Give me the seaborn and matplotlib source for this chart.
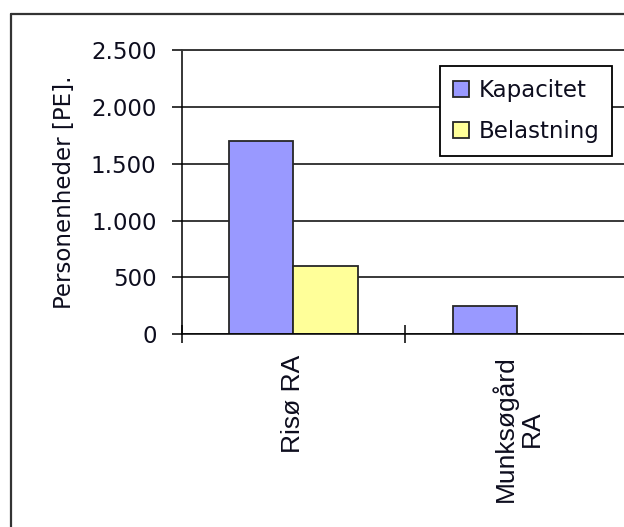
import matplotlib
matplotlib.use("Agg")
import matplotlib.pyplot as plt
from matplotlib.lines import Line2D
from matplotlib.ticker import FuncFormatter, FixedLocator
import seaborn as sns
import pandas as pd

# Data
anlaeg = ["Risø RA", "Munksøgård\nRA"]
kapacitet = [1700, 250]
belastning = [600, 0]
serier = ["Kapacitet", "Belastning"]
farver = ["#9999FF", "#FFFF99"]
y_ticks = [0, 500, 1000, 1500, 2000, 2500]

df = pd.DataFrame({
    "anlaeg": anlaeg * 2,
    "pe": kapacitet + belastning,
    "serie": [serier[0]] * len(anlaeg) + [serier[1]] * len(anlaeg),
})

sns.set_theme(style="white")
plt.rcParams["font.family"] = ["DejaVu Sans"]
TXT = "#0d0d1e"

W, H = 624, 527
fig = plt.figure(figsize=(W / 100, H / 100), dpi=100)
ax = fig.add_axes([181.5 / W, (H - 334.3) / H, (629 - 181.5) / W, 284.3 / H])

sns.barplot(data=df, x="anlaeg", y="pe", hue="serie", hue_order=serier,
            palette=farver, width=0.576, edgecolor="#262626", linewidth=1.3,
            saturation=1, ax=ax)

ax.set_xlim(-0.5, 1.5)
ax.set_ylim(0, 2500)

# y axis
ax.yaxis.set_major_locator(FixedLocator(y_ticks))
ax.yaxis.set_major_formatter(FuncFormatter(lambda v, p: f"{int(v):,}".replace(",", ".")))
ax.tick_params(axis="y", which="major", direction="out", length=7.2, width=1.1,
               color="black", pad=10.8, labelsize=16.5, labelcolor=TXT, left=True)
ax.set_ylabel("Personenheder [PE].", fontsize=16.5, color=TXT, labelpad=10.5)

# x axis: labels at category centres, tick marks at category borders
ax.set_xticks([0, 1])
ax.set_xticklabels(anlaeg, rotation=90, fontsize=19, color=TXT,
                   family="Liberation Sans", multialignment="center",
                   linespacing=1.1)
ax.set_xticks([-0.5, 0.5, 1.5], minor=True)
ax.tick_params(axis="x", which="major", length=0, pad=14.9, bottom=True)
ax.tick_params(axis="x", which="minor", direction="inout", length=13, width=1.1,
               color="black", bottom=True)
ax.set_xlabel("")

# grid and spines
ax.set_axisbelow(True)
ax.yaxis.grid(True, color="#383838", linewidth=1.4)
ax.xaxis.grid(False)
for side in ["left", "bottom"]:
    ax.spines[side].set_color("black")
    ax.spines[side].set_linewidth(1.1)
ax.spines["top"].set_color("#383838")
ax.spines["top"].set_linewidth(1.4)
ax.spines["right"].set_visible(False)

# legend
handles, labels = ax.get_legend_handles_labels()
leg = ax.legend(handles, labels, loc="upper left",
                bbox_to_anchor=(440 / W, 1 - 66 / H), bbox_transform=fig.transFigure,
                borderaxespad=0, fontsize=16.5, frameon=True, fancybox=False,
                framealpha=1, edgecolor="black", handlelength=0.7,
                handleheight=0.7, handletextpad=0.45, borderpad=0.55,
                labelspacing=0.8)
leg.get_frame().set_linewidth(1.3)
for t in leg.get_texts():
    t.set_color(TXT)

# outer chart border
fig.add_artist(Line2D([11 / W, 11 / W], [0, 1 - 14 / H], transform=fig.transFigure,
                      color="#333333", linewidth=1.6))
fig.add_artist(Line2D([11 / W, 1], [1 - 14 / H, 1 - 14 / H], transform=fig.transFigure,
                      color="#333333", linewidth=1.6))

fig.savefig("out.png", dpi=100)
